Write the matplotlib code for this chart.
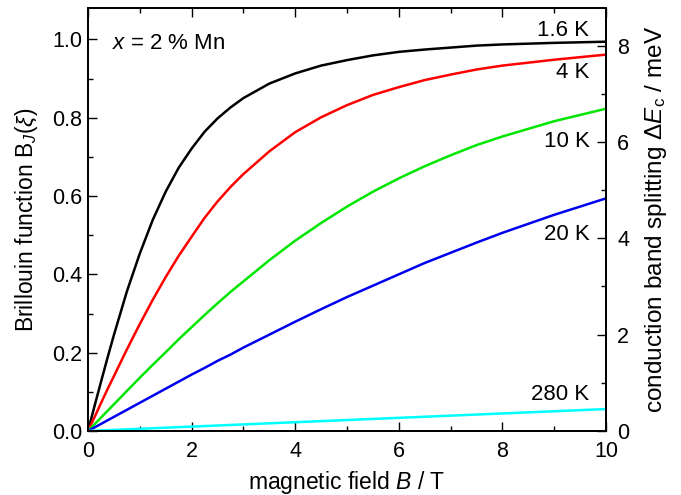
import matplotlib
matplotlib.use("Agg")
import matplotlib.pyplot as plt
from matplotlib.ticker import MultipleLocator

plt.rcParams['font.family'] = ['Liberation Sans', 'DejaVu Sans']
plt.rcParams['mathtext.fontset'] = 'custom'
plt.rcParams['mathtext.rm'] = 'Liberation Sans'
plt.rcParams['mathtext.it'] = 'Liberation Sans:italic'
plt.rcParams['mathtext.bf'] = 'Liberation Sans:bold'

field = [0, 0.125, 0.25, 0.375, 0.5, 0.75, 1, 1.25, 1.5, 1.75, 2, 2.25, 2.5, 2.75,
         3, 3.5, 4, 4.5, 5, 5.5, 6, 6.5, 7, 7.5, 8, 9, 10]
b_1p6K = [0, 0.063, 0.125, 0.186, 0.245, 0.356, 0.453, 0.539, 0.611, 0.672, 0.721, 0.764, 0.798, 0.826,
          0.850, 0.887, 0.913, 0.933, 0.947, 0.959, 0.968, 0.974, 0.979, 0.984, 0.987, 0.991, 0.994]
b_4K = [0, 0.035, 0.071, 0.106, 0.140, 0.208, 0.273, 0.335, 0.393, 0.447, 0.496, 0.544, 0.586, 0.623,
        0.656, 0.714, 0.763, 0.801, 0.832, 0.858, 0.878, 0.896, 0.910, 0.923, 0.933, 0.948, 0.961]
b_10K = [0, 0.017, 0.034, 0.051, 0.068, 0.102, 0.136, 0.169, 0.201, 0.234, 0.265, 0.296, 0.326, 0.355,
         0.382, 0.436, 0.486, 0.531, 0.573, 0.611, 0.645, 0.676, 0.704, 0.730, 0.752, 0.791, 0.823]
b_20K = [0, 0.009, 0.018, 0.027, 0.036, 0.054, 0.072, 0.090, 0.108, 0.126, 0.144, 0.161, 0.179, 0.195,
         0.213, 0.246, 0.279, 0.311, 0.342, 0.371, 0.400, 0.429, 0.455, 0.481, 0.506, 0.552, 0.594]
b_280K = [0, 0.0007, 0.0014, 0.0021, 0.0028, 0.0042, 0.0056, 0.0070, 0.0084, 0.0098, 0.0112, 0.0126, 0.0140, 0.0154,
          0.0168, 0.0196, 0.0224, 0.0252, 0.0280, 0.0308, 0.0336, 0.0364, 0.0392, 0.0420, 0.0448, 0.0504, 0.0560]

series = [b_1p6K, b_4K, b_10K, b_20K, b_280K]
labels = ["1.6 K", "4 K", "10 K", "20 K", "280 K"]
colors = ["#000000", "#ff0000", "#00e600", "#0000f0", "#00ffff"]
label_y = [1.023, 0.915, 0.740, 0.501, 0.092]

fig = plt.figure(figsize=(6.81, 4.95), dpi=100)
ax = fig.add_axes([0.1292, 0.1293, 0.7607, 0.8545])

for vals, c in zip(series, colors):
    ax.plot(field, vals, color=c, lw=1.8, solid_joinstyle='round')

for lab, ly in zip(labels, label_y):
    ax.text(9.68, ly, lab, ha='right', va='center', fontsize=16)

ax.text(0.46, 0.99, r"$x$ = 2 % Mn", ha='left', va='center', fontsize=16)

ax.set_xlim(0, 10)
ax.set_ylim(0, 1.08)
ax.xaxis.set_minor_locator(MultipleLocator(1))
ax.yaxis.set_minor_locator(MultipleLocator(0.1))
ax.set_xticks([0, 2, 4, 6, 8, 10])
ax.set_xticklabels(["0", "2", "4", "6", "8", "10"])
ax.set_yticks([0, 0.2, 0.4, 0.6, 0.8, 1.0])
ax.set_yticklabels(["0.0", "0.2", "0.4", "0.6", "0.8", "1.0"])
ax.tick_params(which='both', direction='in', top=True, right=False, labelsize=15.5, width=1.0)
ax.tick_params(axis='x', which='both', pad=7)
ax.tick_params(axis='y', which='both', pad=4)
ax.tick_params(which='major', length=6.5)
ax.tick_params(which='minor', length=3.5)
for s in ax.spines.values():
    s.set_linewidth(1.3)

ax.set_xlabel(r"magnetic field $B$ / T", fontsize=16.5, labelpad=5)
ax.set_ylabel(r"Brillouin function B$_J$($\xi$)", fontsize=16.5, labelpad=9)

ax2 = ax.twinx()
ax2.set_ylim(0, 8.78)
ax2.yaxis.set_major_locator(MultipleLocator(2))
ax2.yaxis.set_minor_locator(MultipleLocator(1))
ax2.tick_params(which='both', direction='in', labelsize=15.5, width=1.0, pad=8)
ax2.tick_params(which='major', length=6.5)
ax2.tick_params(which='minor', length=3.5)
for s in ax2.spines.values():
    s.set_linewidth(1.3)
ax2.set_ylabel(r"conduction band splitting $\Delta E_{\mathrm{c}}$ / meV", fontsize=17.5, labelpad=10)

fig.savefig("out.png", dpi=100)
